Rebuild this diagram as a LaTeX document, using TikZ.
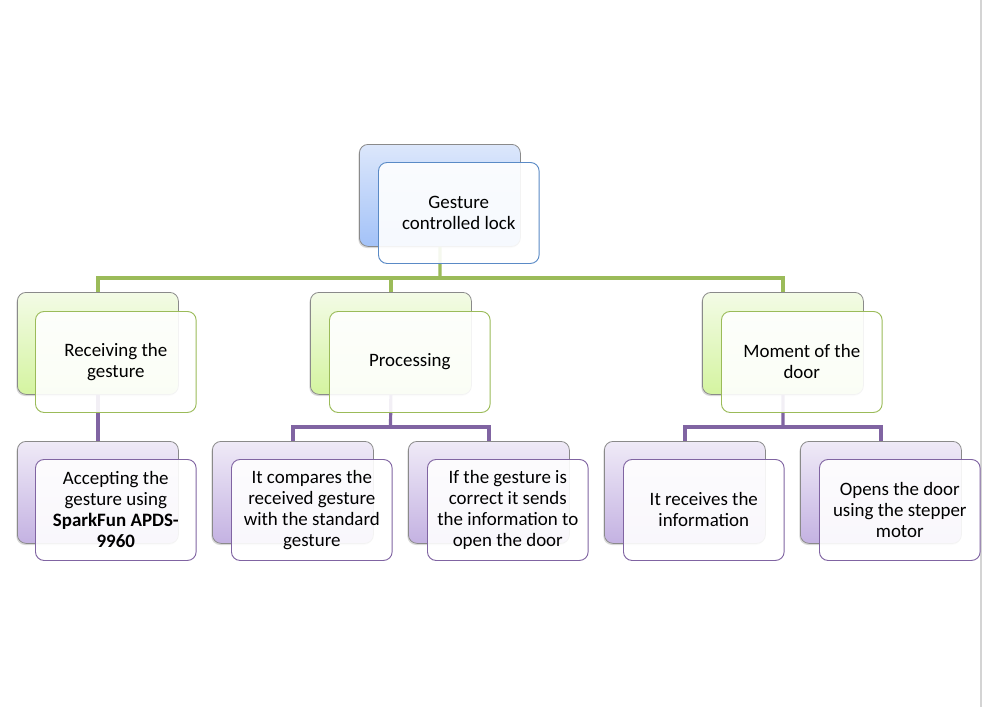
\documentclass[tikz,border=0pt]{standalone}
\usepackage{fontspec}
\setmainfont{Carlito}
\usetikzlibrary{shadows}
\definecolor{bluetop}{HTML}{DCE7FB}
\definecolor{bluebot}{HTML}{A3C2F8}
\definecolor{blueline}{HTML}{5A8AC6}
\definecolor{greentop}{HTML}{F3FBE6}
\definecolor{greenbot}{HTML}{D4F4A0}
\definecolor{greenline}{HTML}{9BBB59}
\definecolor{purptop}{HTML}{EFEAF7}
\definecolor{purpbot}{HTML}{C4B2E2}
\definecolor{purpline}{HTML}{8064A2}
\definecolor{backedge}{HTML}{8A8A8A}
\definecolor{pagegray}{HTML}{D4D4D4}
\tikzset{
  backbox/.style={rectangle, rounded corners=6.5pt, anchor=north west,
    minimum width=120.75pt, minimum height=76.5pt, draw=backedge, line width=0.6pt,
    drop shadow={shadow xshift=-0.8pt, shadow yshift=-1.2pt, opacity=0.3}},
  frontbox/.style={rectangle, rounded corners=6.5pt, anchor=north west,
    minimum width=120.5pt, minimum height=75.75pt, line width=0.7pt,
    fill=white, fill opacity=0.9, text opacity=1, align=center,
    font=\fontsize{14.2pt}{15.75pt}\selectfont, inner sep=1pt},
  blueback/.style={backbox, top color=bluetop, bottom color=bluebot},
  greenback/.style={backbox, top color=greentop, bottom color=greenbot},
  purpback/.style={backbox, top color=purptop, bottom color=purpbot},
  bluefront/.style={frontbox, draw=blueline},
  greenfront/.style={frontbox, draw=greenline},
  purpfront/.style={frontbox, draw=purpline},
  greenconn/.style={draw=greenline, line width=2.4pt},
  purpconn/.style={draw=purpline, line width=2.4pt},
}
\begin{document}
\begin{tikzpicture}[x=0.75pt, y=-0.75pt]
\useasboundingbox (0,0) rectangle (983,707);
\fill[white] (0,0) rectangle (983,707);
\draw[pagegray, line width=1.5pt] (981,0) -- (981,707);

% bus coordinates
\coordinate (bus1) at (440,278);
\coordinate (bus2) at (390.5,427);
\coordinate (bus3) at (783,427);

% back boxes
\node[blueback] (topB) at (359,144) {};
\node[greenback] (l1aB) at (17,292) {};
\node[greenback] (l1bB) at (310,292) {};
\node[greenback] (l1cB) at (702,292) {};
\node[purpback] (l2aB) at (17,441) {};
\node[purpback] (l2bB) at (212,441) {};
\node[purpback] (l2cB) at (408,441) {};
\node[purpback] (l2dB) at (604,441) {};
\node[purpback] (l2eB) at (800,441) {};

% connectors (behind front boxes)
\draw[greenconn] (topB.south) -- (bus1);
\draw[greenconn] (l1aB.north) |- (bus1) -| (l1cB.north);
\draw[greenconn] (bus1 -| l1bB.north) -- (l1bB.north);
\draw[purpconn] (l1aB.south) -- (l2aB.north);
\draw[purpconn] (l1bB.south) -- (bus2);
\draw[purpconn] (l2bB.north) |- (bus2) -| (l2cB.north);
\draw[purpconn] (l1cB.south) -- (bus3);
\draw[purpconn] (l2dB.north) |- (bus3) -| (l2eB.north);

% front boxes
\node[bluefront] (top) at (378,162) {Gesture\\controlled lock};
\node[greenfront] (l1a) at (35,311) {Receiving the\\gesture};
\node[greenfront] (l1b) at (329,311) {Processing};
\node[greenfront] (l1c) at (721,311) {Moment of the\\door};
\node[purpfront] (l2a) at (35,459) {Accepting the\\gesture using\\\textbf{SparkFun APDS-}\\\textbf{9960}};
\node[purpfront] (l2b) at (231,459) {It compares the\\received gesture\\with the standard\\gesture};
\node[purpfront] (l2c) at (427,459) {If the gesture is\\correct it sends\\the information to\\open the door};
\node[purpfront] (l2d) at (623,459) {It receives the\\information};
\node[purpfront] (l2e) at (819,459) {Opens the door\\using the stepper\\motor};
\end{tikzpicture}
\end{document}
